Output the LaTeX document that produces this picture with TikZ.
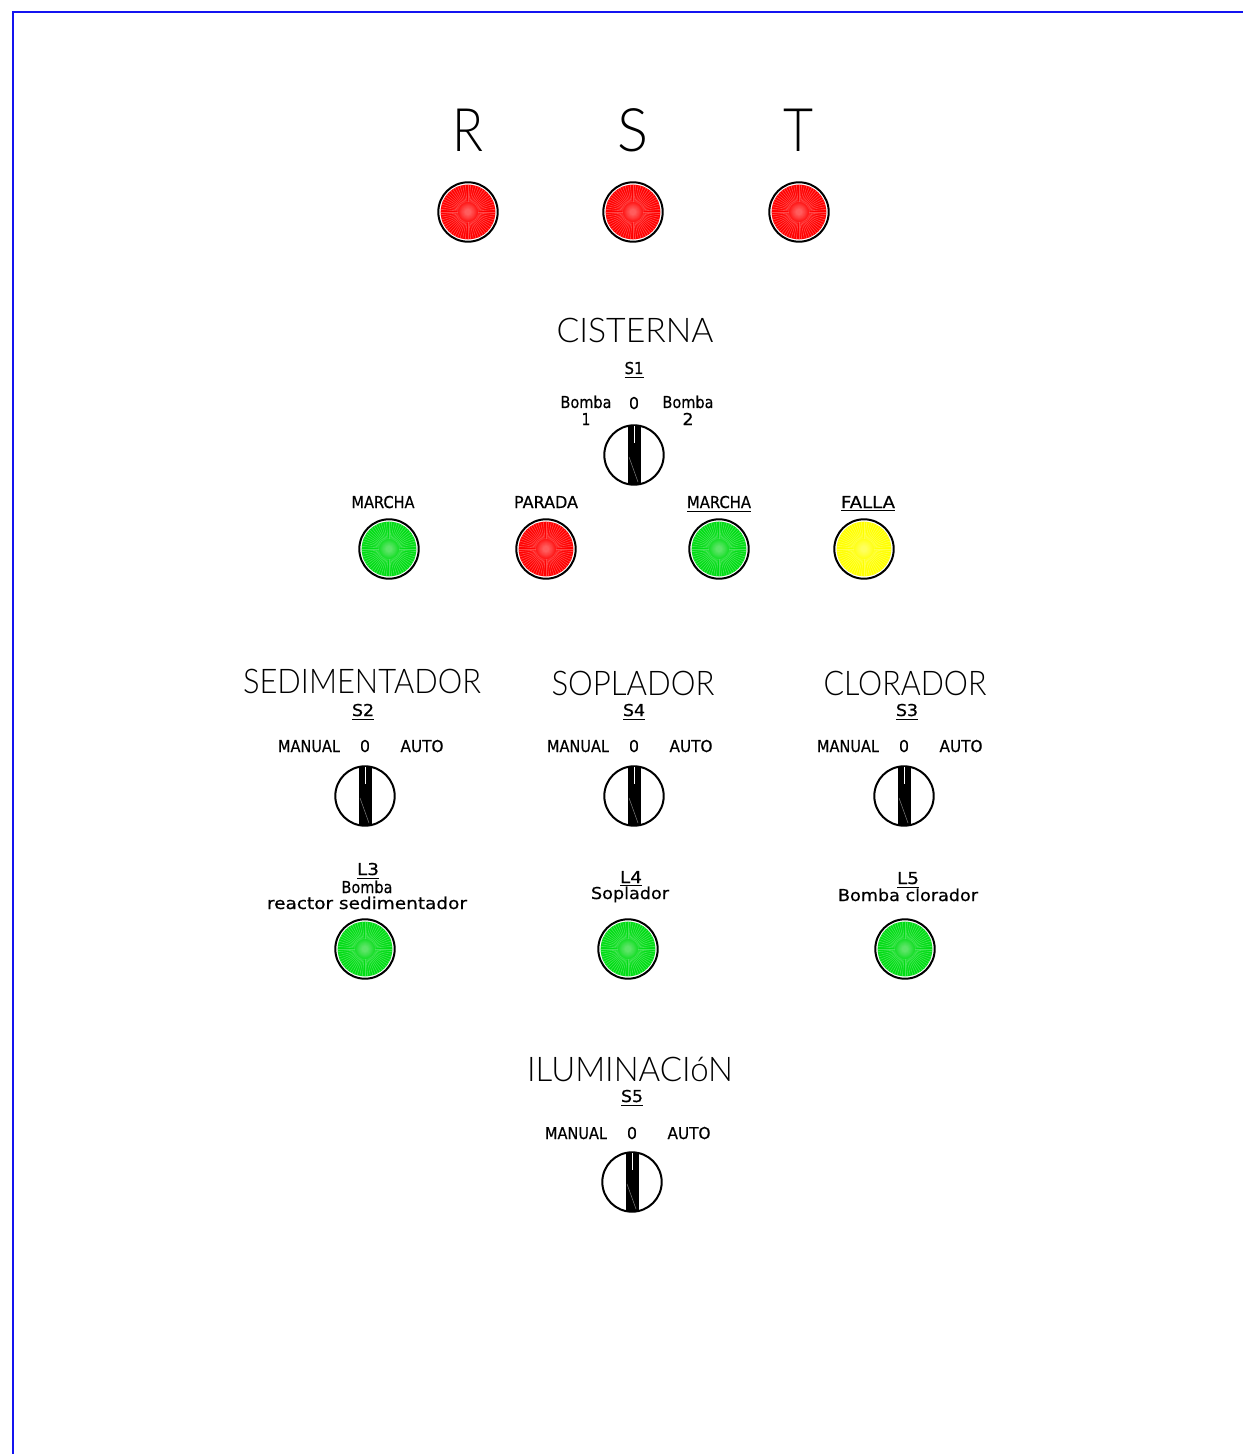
\documentclass[tikz,border=0pt]{standalone}
\usepackage{fontspec}
\usepackage{graphicx}
\setmainfont{Liberation Sans}
\newfontfamily\thinfont{Lato Light}
\newfontfamily\smallfont[FakeBold=0.6]{DejaVu Sans}
\definecolor{lampred}{RGB}{255,0,0}
\definecolor{lampgreen}{RGB}{0,220,20}
\definecolor{lampyellow}{RGB}{255,255,0}
\definecolor{frameblue}{RGB}{20,20,240}
\tikzset{
  x=0.5pt,y=-0.5pt,
  txt/.style={anchor=base,inner sep=0pt,outer sep=0pt,text=black},
  frameline/.style={draw=frameblue,line width=1pt},
  ringline/.style={draw=black,line width=1pt},
}
% small label: name, x, baseline, width in px, text
\newcommand\smalltxt[5]{\node[txt] (#1) at (#2,#3) {\resizebox{\dimexpr #4pt/2\relax}{\height}{\fontsize{8.2pt}{9pt}\smallfont #5}};}
\newcommand\bigtxt[5]{\node[txt] (#1) at (#2,#3) {\resizebox{\dimexpr #4pt/2\relax}{\height}{\fontsize{17pt}{18pt}\thinfont #5}};}
\newcommand\hugetxt[5]{\node[txt] (#1) at (#2,#3) {\resizebox{\dimexpr #4pt/2\relax}{\height}{\fontsize{30pt}{32pt}\thinfont #5}};}
% lamp: name, x, y, colour
\newcommand\lamp[4]{%
  \begin{scope}[shift={(#2,#3)}]
    \fill[#4] (0,0) circle (27.4);
    \foreach \a in {0,5.625,...,354.4}{\draw[#4!72!white,line width=0.32pt] (\a:10) -- (\a:27.4);}
    \foreach \r in {11,10,...,3}{\fill[white,opacity=0.05] (0,0) circle (\r);}
    \node[circle,ringline,minimum size=29.7pt,inner sep=0pt] (#1) at (0,0) {};
  \end{scope}}
% selector: name, x, y
\newcommand\selector[3]{%
  \begin{scope}[shift={(#2,#3)}]
    \node[circle,ringline,minimum size=29.7pt,inner sep=0pt] (#1) at (0,0) {};
    \begin{scope}
      \clip (0,0) circle (30);
      \fill[black] (-6.5,-31) rectangle (6.5,31);
    \end{scope}
    \draw[white,line width=0.5pt] (0,-29) -- (0,-12);
    \draw[gray,line width=0.25pt] (-5,2) -- (4,27);
  \end{scope}}
\begin{document}
\begin{tikzpicture}
\useasboundingbox (0,0) rectangle (1243,1454);
\coordinate (fa) at (13,1454);
\coordinate (fb) at (13,12);
\coordinate (fc) at (1243,12);
\draw[frameline] (fa) -- (fb) -- (fc);

\hugetxt{tr}{468}{152}{31}{R}
\hugetxt{ts}{633}{152}{31}{S}
\hugetxt{tt}{798}{152}{30}{T}
\lamp{l1}{468}{212}{lampred}
\lamp{l2}{633}{212}{lampred}
\lamp{l3}{799}{212}{lampred}

\bigtxt{cis}{635}{343}{157}{CISTERNA}
\smalltxt{s1}{634}{374}{19}{\underline{S1}}
\smalltxt{b1}{586}{408}{51}{Bomba}
\smalltxt{n1}{586}{425}{9}{1}
\smalltxt{z1}{634}{409}{10}{0}
\smalltxt{b2}{688}{408}{51}{Bomba}
\smalltxt{n2}{688}{425}{11}{2}
\selector{sel1}{634}{455}
\smalltxt{m1}{383}{508}{63}{MARCHA}
\smalltxt{p1}{546}{508}{64}{PARADA}
\smalltxt{m2}{719}{508}{64}{\underline{MARCHA}}
\smalltxt{f1}{868}{508}{54}{\underline{FALLA}}
\lamp{lm1}{389}{549}{lampgreen}
\lamp{lp1}{546}{549}{lampred}
\lamp{lm2}{719}{549}{lampgreen}
\lamp{lf1}{864}{549}{lampyellow}

\bigtxt{sed}{362}{693}{238}{SEDIMENTADOR}
\bigtxt{sop}{633}{695}{163}{SOPLADOR}
\bigtxt{clo}{905}{695}{163}{CLORADOR}
\smalltxt{s2}{363}{716}{22}{\underline{S2}}
\smalltxt{s4}{634}{716}{22}{\underline{S4}}
\smalltxt{s3}{907}{716}{22}{\underline{S3}}
\smalltxt{ma}{309}{752}{62}{MANUAL}
\smalltxt{za}{365}{752}{10}{0}
\smalltxt{aa}{422}{752}{43}{AUTO}
\smalltxt{mb}{578}{752}{62}{MANUAL}
\smalltxt{zb}{634}{752}{10}{0}
\smalltxt{ab}{691}{752}{43}{AUTO}
\smalltxt{mc}{848}{752}{62}{MANUAL}
\smalltxt{zc}{904}{752}{10}{0}
\smalltxt{ac}{961}{752}{43}{AUTO}
\selector{sel2}{365}{796}
\selector{sel4}{634}{796}
\selector{sel3}{904}{796}
\smalltxt{t3}{368}{875}{22}{\underline{L3}}
\smalltxt{t3a}{367}{893}{51}{Bomba}
\smalltxt{t3b}{367}{909}{200}{reactor sedimentador}
\smalltxt{t4}{631}{883}{22}{\underline{L4}}
\smalltxt{t4a}{630}{899}{78}{Soplador}
\smalltxt{t5}{908}{884}{22}{\underline{L5}}
\smalltxt{t5a}{908}{901}{140}{Bomba clorador}
\lamp{ls3}{365}{949}{lampgreen}
\lamp{ls4}{628}{949}{lampgreen}
\lamp{ls5}{905}{949}{lampgreen}

\bigtxt{ilu}{630}{1081}{206}{ILUMINACIóN}
\smalltxt{s5}{632}{1102}{22}{\underline{S5}}
\smalltxt{md}{576}{1139}{62}{MANUAL}
\smalltxt{zd}{632}{1139}{10}{0}
\smalltxt{ad}{689}{1139}{43}{AUTO}
\selector{sel5}{632}{1182}
\end{tikzpicture}
\end{document}
